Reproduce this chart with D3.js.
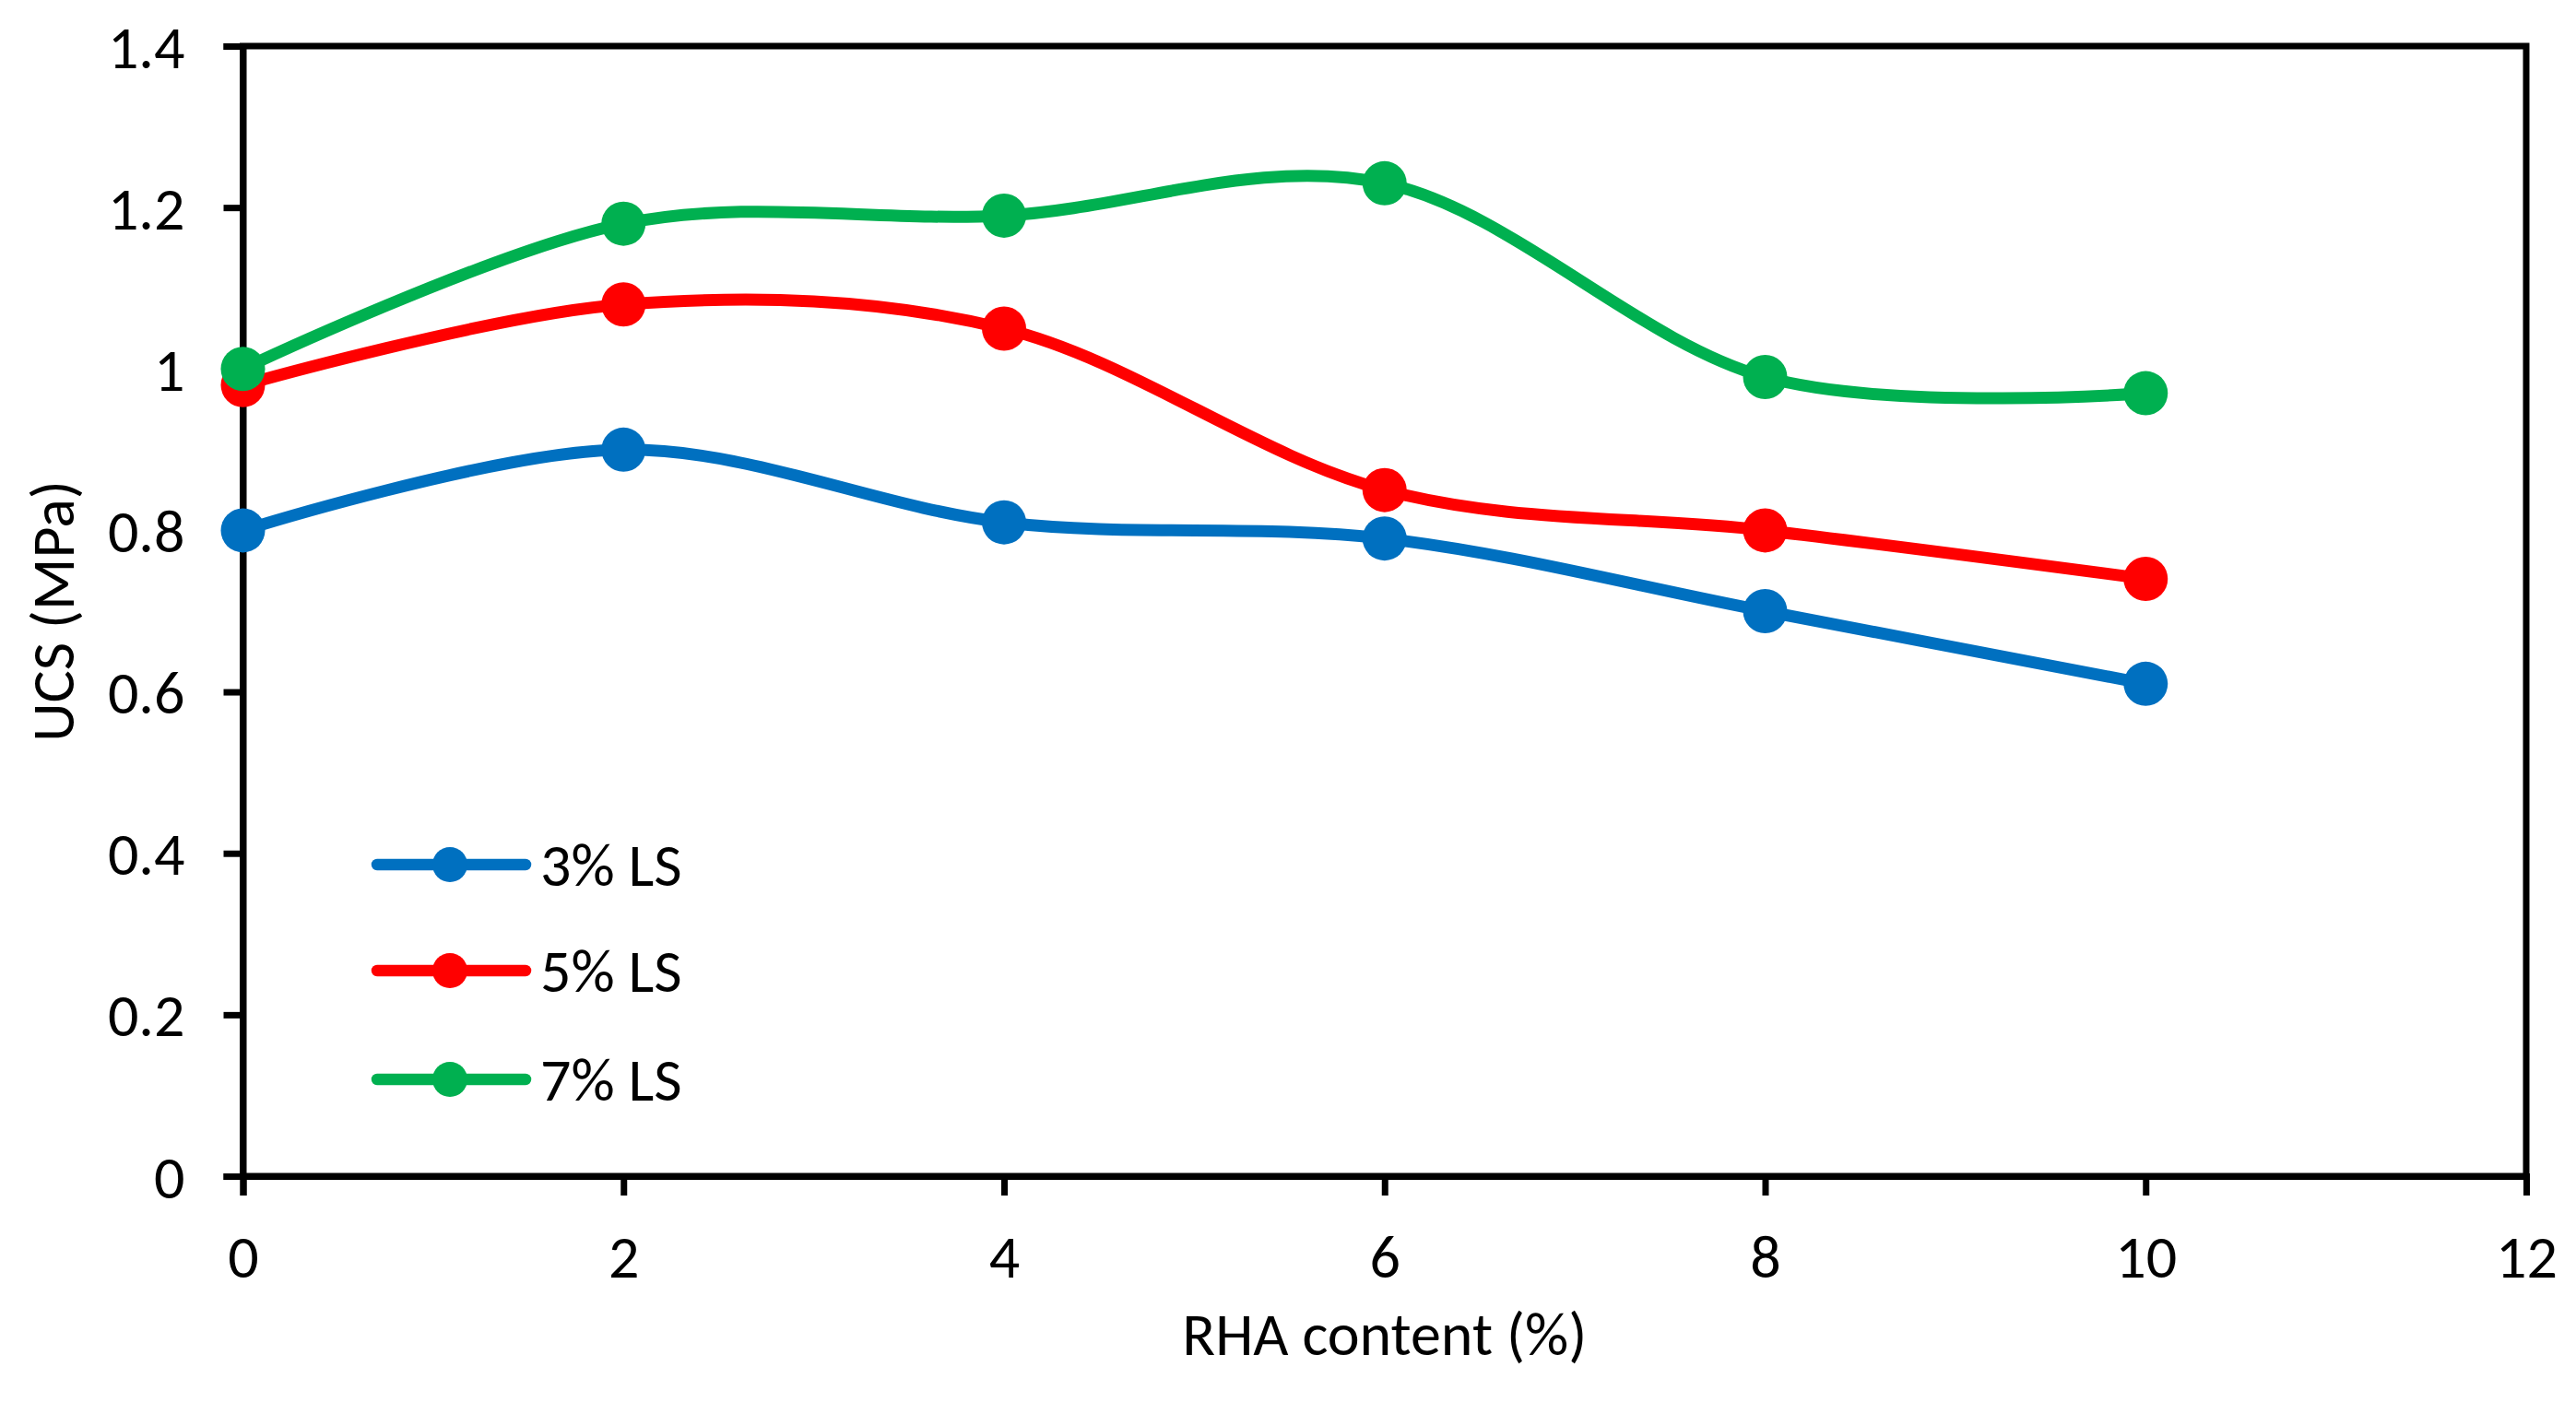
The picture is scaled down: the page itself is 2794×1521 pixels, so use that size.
<!DOCTYPE html>
<html>
<head>
<meta charset="utf-8">
<script src="https://cdn.jsdelivr.net/npm/d3@7"></script>
<style>
  html, body { margin: 0; padding: 0; background: #fff; }
  svg { display: block; }
  text { font-family: Carlito, Calibri, Lato, sans-serif; fill: #000; }
</style>
</head>
<body>
<svg id="chart" width="2794" height="1521"></svg>
<script>
// ---- data ----
const rhaContent = [0, 2, 4, 6, 8, 10];
const ls3 = [0.80, 0.90, 0.81, 0.79, 0.70, 0.61];
const ls5 = [0.98, 1.08, 1.05, 0.85, 0.80, 0.74];
const ls7 = [1.00, 1.18, 1.19, 1.23, 0.99, 0.97];
const seriesNames = ["3% LS", "5% LS", "7% LS"];
const seriesColors = ["#0070C0", "#FF0000", "#00B050"];
const xTicks = [0, 2, 4, 6, 8, 10, 12];
const yTicks = [0, 0.2, 0.4, 0.6, 0.8, 1, 1.2, 1.4];
const xTitle = "RHA content (%)";
const yTitle = "UCS (MPa)";

const series = [ls3, ls5, ls7].map((vals, i) => ({
  name: seriesNames[i], color: seriesColors[i],
  points: vals.map((v, j) => ({x: rhaContent[j], y: v}))
}));

// ---- layout ----
const L = 263.5, R = 2740, T = 50, B = 1276;
const FS = 66;
const svg = d3.select("#chart");

const x = d3.scaleLinear().domain([0, 12]).range([L, R]);
const y = d3.scaleLinear().domain([0, 1.4]).range([B, T]);

// frame (top/right)
svg.append("rect").attr("x", L).attr("y", T).attr("width", R - L).attr("height", B - T)
  .attr("fill", "none").attr("stroke", "#000").attr("stroke-width", 7);

// axes
const xAxis = d3.axisBottom(x).tickValues(xTicks).tickSize(21).tickPadding(44).tickFormat(d3.format("d"));
const yAxis = d3.axisLeft(y).tickValues(yTicks).tickSize(21).tickPadding(42).tickFormat(d => d3.format("")(+d.toFixed(1)));

const gx = svg.append("g").attr("transform", `translate(0,${B})`).call(xAxis);
const gy = svg.append("g").attr("transform", `translate(${L},0)`).call(yAxis);
[gx, gy].forEach(g => {
  g.select(".domain").attr("stroke", "#000").attr("stroke-width", 7);
  g.selectAll(".tick line").attr("stroke", "#000").attr("stroke-width", 7);
  g.selectAll(".tick text").style("font-size", FS + "px").attr("fill", "#000")
    .style("font-family", "Carlito, Calibri, Lato, sans-serif");
});
gx.selectAll(".tick text").attr("dy", null).attr("y", null)
  .attr("transform", "translate(0,110)").attr("dominant-baseline", "auto");
gy.selectAll(".tick text").attr("dy", "0.35em");

// axis titles
svg.append("text").attr("x", (L + R) / 2).attr("y", 1470).attr("text-anchor", "middle")
  .style("font-size", FS + "px").text(xTitle);
svg.append("text").attr("transform", `translate(80,${(T + B) / 2}) rotate(-90)`)
  .attr("text-anchor", "middle").style("font-size", FS + "px").text(yTitle);

// series
const line = d3.line().x(d => x(d.x)).y(d => y(d.y)).curve(d3.curveCardinal.tension(0));
series.forEach(s => {
  const g = svg.append("g");
  g.append("path").attr("d", line(s.points)).attr("fill", "none")
    .attr("stroke", s.color).attr("stroke-width", 13).attr("stroke-linejoin", "round").attr("stroke-linecap", "round");
  g.selectAll("circle").data(s.points).join("circle")
    .attr("cx", d => x(d.x)).attr("cy", d => y(d.y)).attr("r", 24).attr("fill", s.color);
});

// legend
const legY = [938, 1053, 1171];
series.forEach((s, i) => {
  const g = svg.append("g").attr("transform", `translate(0,${legY[i]})`);
  g.append("line").attr("x1", 409).attr("x2", 570).attr("y1", 0).attr("y2", 0)
    .attr("stroke", s.color).attr("stroke-width", 12.5).attr("stroke-linecap", "round");
  g.append("circle").attr("cx", 488).attr("cy", 0).attr("r", 19).attr("fill", s.color);
  g.append("text").attr("x", 586).attr("y", 23).style("font-size", FS + "px").text(s.name);
});
</script>
</body>
</html>
